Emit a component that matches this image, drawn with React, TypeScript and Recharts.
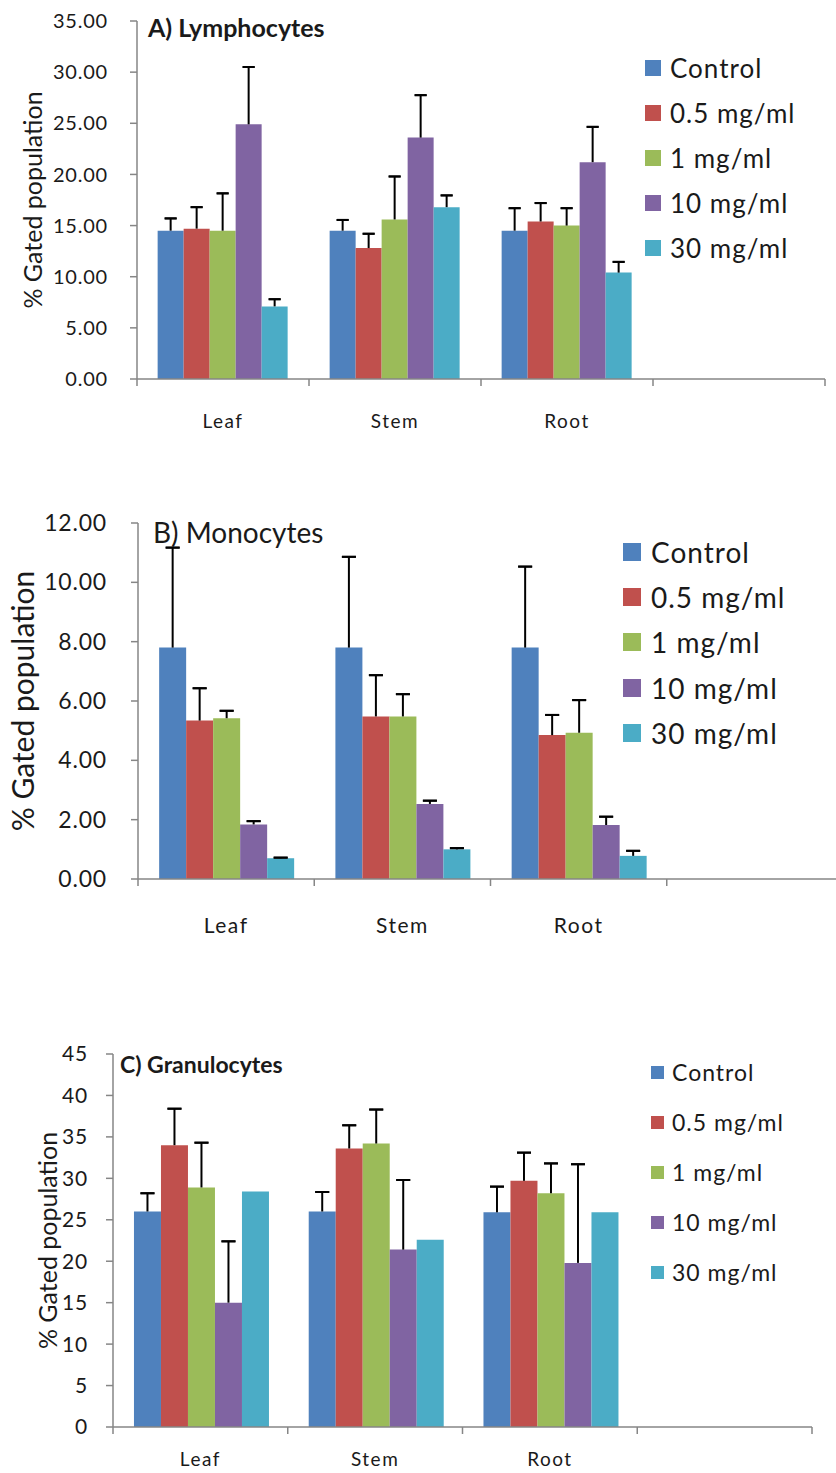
import { BarChart, Bar, XAxis, YAxis, ErrorBar, Legend } from 'recharts';

// Categories and series
const categories = ['Leaf', 'Stem', 'Root', ''];
const seriesNames = ['Control', '0.5 mg/ml', '1 mg/ml', '10 mg/ml', '30 mg/ml'];
const seriesColors = ['#4F81BD', '#C0504D', '#9BBB59', '#8064A2', '#4BACC6'];

// A) Lymphocytes: mean per series (rows) x category (Leaf, Stem, Root)
const lymphMeans = [
  [14.5, 14.5, 14.5],
  [14.7, 12.8, 15.4],
  [14.5, 15.6, 15.0],
  [24.9, 23.6, 21.2],
  [7.1, 16.8, 10.4],
];
const lymphErrors = [
  [1.2, 1.05, 2.2],
  [2.1, 1.4, 1.8],
  [3.65, 4.2, 1.7],
  [5.6, 4.15, 3.45],
  [0.7, 1.15, 1.05],
];
const lymphTicks = [0, 5, 10, 15, 20, 25, 30, 35];

// B) Monocytes
const monoMeans = [
  [7.8, 7.8, 7.8],
  [5.34, 5.48, 4.85],
  [5.42, 5.48, 4.93],
  [1.84, 2.53, 1.82],
  [0.7, 1.0, 0.78],
];
const monoErrors = [
  [3.37, 3.06, 2.73],
  [1.09, 1.39, 0.68],
  [0.25, 0.75, 1.1],
  [0.11, 0.11, 0.28],
  [0.02, 0.04, 0.17],
];
const monoTicks = [0, 2, 4, 6, 8, 10, 12];

// C) Granulocytes (30 mg/ml has no error bar)
const granMeans = [
  [26.0, 26.0, 25.9],
  [34.0, 33.6, 29.7],
  [28.9, 34.2, 28.2],
  [15.0, 21.4, 19.8],
  [28.4, 22.6, 25.9],
];
const granErrors = [
  [2.2, 2.35, 3.1],
  [4.4, 2.8, 3.4],
  [5.4, 4.1, 3.6],
  [7.4, 8.4, 11.9],
  null,
];
const granTicks = [0, 5, 10, 15, 20, 25, 30, 35, 40, 45];

const FONT = 'Lato, "Open Sans", sans-serif';
const AXIS = '#868686';
const TEXT = '#1a1a1a';

function buildRows(means: number[][], errors: (number[] | null)[]) {
  return categories.map((name, i) => {
    const row: Record<string, any> = { name };
    means.forEach((vals, s) => {
      row[`v${s}`] = vals[i];
      const e = errors[s];
      row[`e${s}`] = e ? e[i] : undefined;
    });
    return row;
  });
}

interface PanelProps {
  top: number;
  width: number;
  height: number;
  margin: { top: number; right: number; bottom: number; left: number };
  rows: Record<string, any>[];
  ticks: number[];
  decimals: number;
  tickFont: number;
  tickMargin: number;
  yLabel: { x: number; font: number };
  title: { text: string; left: number; cy: number; font: number; weight: number };
  xFont: number;
  xDy: number;
  capW: number;
  legend: { left: number; top: number; rowH: number; box: number; font: number; gap: number };
}

function Panel(p: PanelProps) {
  const yAxisWidth = 80;
  const plotLeft = p.margin.left + yAxisWidth;
  const plotRight = p.width - p.margin.right;
  const band = (plotRight - plotLeft) / categories.length;
  const plotTop = p.margin.top;
  const plotBottom = p.height - p.margin.bottom - 40;
  const midY = (plotTop + plotBottom) / 2;

  const renderXTick = (props: any) => {
    const { x, y, payload, index } = props;
    const half = band / 2;
    return (
      <g>
        <line x1={x - half} y1={y} x2={x - half} y2={y + 7} stroke={AXIS} strokeWidth={1.5} />
        {index === categories.length - 1 && (
          <line x1={x + half} y1={y} x2={x + half} y2={y + 7} stroke={AXIS} strokeWidth={1.5} />
        )}
        <text
          x={x}
          y={y + p.xDy}
          textAnchor="middle"
          fontSize={p.xFont}
          fontFamily={FONT}
          fill={TEXT}
          style={{ letterSpacing: 1.5 }}
        >
          {payload.value}
        </text>
      </g>
    );
  };

  // keep the legend in series order (Recharts sorts it by name otherwise)
  const renderLegend = (props: any) => {
    const payload = [...(props.payload || [])].sort(
      (a: any, b: any) => seriesNames.indexOf(a.value) - seriesNames.indexOf(b.value)
    );
    return (
      <div style={{ fontFamily: FONT, color: TEXT }}>
        {payload.map((entry: any) => (
          <div
            key={entry.value}
            style={{
              height: p.legend.rowH,
              display: 'flex',
              alignItems: 'center',
              fontSize: p.legend.font,
              letterSpacing: 1,
            }}
          >
            <span
              style={{
                display: 'inline-block',
                width: p.legend.box,
                height: p.legend.box,
                background: entry.color,
                marginRight: p.legend.gap,
              }}
            />
            <span style={{ whiteSpace: 'nowrap' }}>{entry.value}</span>
          </div>
        ))}
      </div>
    );
  };

  return (
    <div style={{ position: 'absolute', left: 0, top: p.top, width: p.width, height: p.height }}>
      <BarChart
        width={p.width}
        height={p.height}
        data={p.rows}
        margin={p.margin}
        barCategoryGap="12%"
        barGap={0}
      >
        <XAxis
          dataKey="name"
          height={40}
          interval={0}
          tickSize={0}
          tickMargin={0}
          tickLine={false}
          axisLine={{ stroke: AXIS, strokeWidth: 1.5 }}
          tick={renderXTick}
        />
        <YAxis
          type="number"
          width={yAxisWidth}
          domain={[0, p.ticks[p.ticks.length - 1]]}
          ticks={p.ticks}
          allowDataOverflow
          interval={0}
          tickSize={7}
          tickMargin={p.tickMargin}
          axisLine={{ stroke: AXIS, strokeWidth: 1.5 }}
          tickLine={{ stroke: AXIS, strokeWidth: 1.5 }}
          tick={{ fontSize: p.tickFont, fontFamily: FONT, fill: TEXT, style: { letterSpacing: 0.8 } }}
          tickFormatter={(v: number) => v.toFixed(p.decimals)}
          label={{
            content: () => (
              <text
                x={p.yLabel.x}
                y={midY}
                transform={`rotate(-90, ${p.yLabel.x}, ${midY})`}
                textAnchor="middle"
                dominantBaseline="central"
                fontSize={p.yLabel.font}
                fontFamily={FONT}
                fill={TEXT}
              >
                % Gated population
              </text>
            ),
          }}
        />
        <Legend
          layout="horizontal"
          verticalAlign="middle"
          align="center"
          wrapperStyle={{ left: p.legend.left, top: p.legend.top, width: 200, height: p.legend.rowH * 5 }}
          content={renderLegend}
        />
        {seriesNames.map((name, s) => (
          <Bar key={name} dataKey={`v${s}`} name={name} fill={seriesColors[s]} isAnimationActive={false}>
            {p.rows.some((r) => r[`e${s}`] != null) && (
              <ErrorBar
                dataKey={(d: any) => (d[`e${s}`] == null ? undefined : [0, d[`e${s}`]])}
                width={0}
                stroke="#000"
                strokeWidth={2}
                direction="y"
                isAnimationActive={false}
              />
            )}
            {p.rows.some((r) => r[`e${s}`] != null) && (
              <ErrorBar
                dataKey={(d: any) => (d[`e${s}`] == null ? undefined : [-d[`e${s}`], d[`e${s}`]])}
                width={p.capW}
                stroke="#000"
                strokeWidth={2}
                direction="y"
                isAnimationActive={false}
              />
            )}
          </Bar>
        ))}
      </BarChart>
      <div
        style={{
          position: 'absolute',
          left: p.title.left,
          top: p.title.cy - p.title.font * 0.6,
          fontFamily: FONT,
          fontSize: p.title.font,
          fontWeight: p.title.weight,
          color: TEXT,
          lineHeight: 1.2,
          whiteSpace: 'nowrap',
        }}
      >
        {p.title.text}
      </div>
    </div>
  );
}

export default function App() {
  return (
    <div
      style={{
        position: 'absolute',
        left: 0,
        top: 0,
        width: 836,
        height: 1473,
        overflow: 'hidden',
        background: '#fff',
      }}
    >
      <Panel
        top={0}
        width={836}
        height={470}
        margin={{ top: 21, right: 11, bottom: 51, left: 57 }}
        rows={buildRows(lymphMeans, lymphErrors)}
        ticks={lymphTicks}
        decimals={2}
        tickFont={20}
        tickMargin={22}
        yLabel={{ x: 32, font: 25 }}
        title={{ text: 'A) Lymphocytes', left: 148, cy: 27, font: 25, weight: 700 }}
        xFont={19}
        xDy={49}
        capW={6}
        legend={{ left: 645, top: 45, rowH: 45, box: 16, font: 26, gap: 9 }}
      />
      <Panel
        top={470}
        width={850}
        height={490}
        margin={{ top: 53, right: 7, bottom: 41, left: 58 }}
        rows={buildRows(monoMeans, monoErrors)}
        ticks={monoTicks}
        decimals={2}
        tickFont={23}
        tickMargin={24}
        yLabel={{ x: 22, font: 30 }}
        title={{ text: 'B) Monocytes', left: 153, cy: 63, font: 28, weight: 400 }}
        xFont={21}
        xDy={54}
        capW={7}
        legend={{ left: 623, top: 59, rowH: 45.3, box: 18, font: 28, gap: 10 }}
      />
      <Panel
        top={960}
        width={836}
        height={513}
        margin={{ top: 94, right: 24, bottom: 6, left: 33 }}
        rows={buildRows(granMeans, granErrors)}
        ticks={granTicks}
        decimals={0}
        tickFont={21}
        tickMargin={18}
        yLabel={{ x: 47, font: 25 }}
        title={{ text: 'C) Granulocytes', left: 120, cy: 105, font: 23, weight: 700 }}
        xFont={19}
        xDy={39}
        capW={7}
        legend={{ left: 651, top: 87, rowH: 50, box: 13, font: 23, gap: 8 }}
      />
    </div>
  );
}
